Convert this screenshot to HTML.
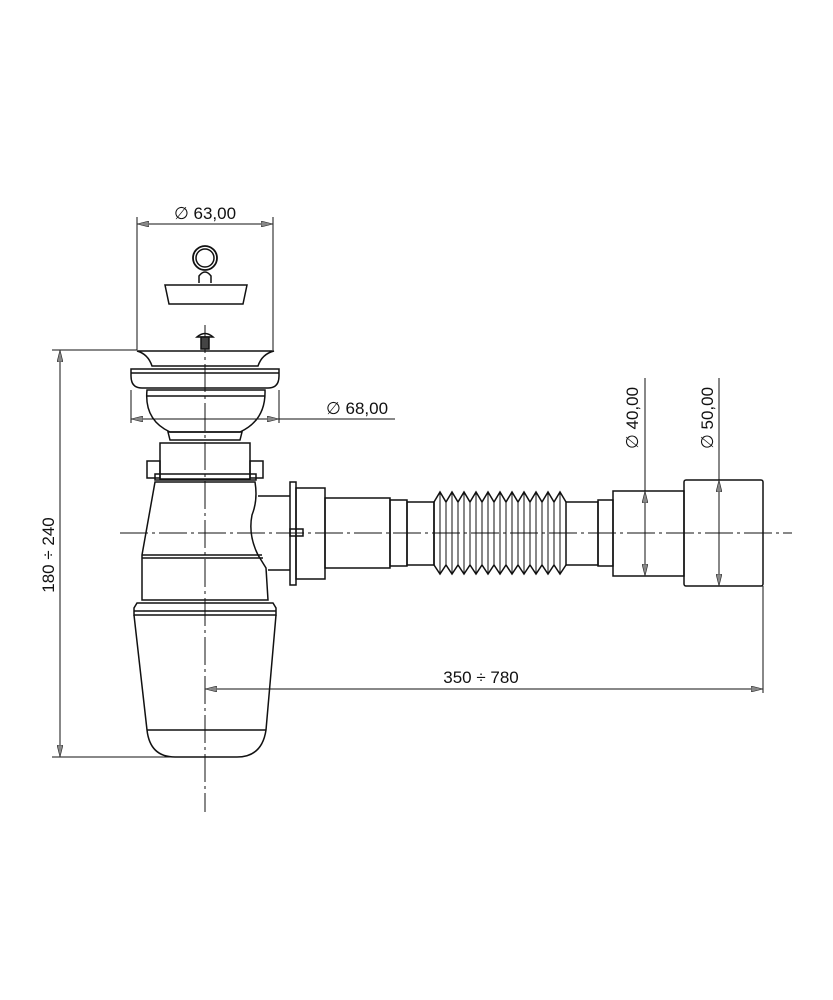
<!DOCTYPE html>
<html><head><style>html,body{margin:0;padding:0;background:#fff}svg{display:block}</style></head>
<body>
<svg width="833" height="1000" viewBox="0 0 833 1000" xmlns="http://www.w3.org/2000/svg" font-family="'Liberation Sans','DejaVu Sans',sans-serif">
<defs>
<marker id="a" viewBox="0 0 12 6" refX="12" refY="3" markerWidth="12" markerHeight="6" orient="auto-start-reverse" markerUnits="userSpaceOnUse"><path d="M0,0 L12,3 L0,6 Z" fill="#888" stroke="#222" stroke-width="0.6"/></marker>
</defs>
<g stroke="#111" stroke-width="1.5" fill="none">
<line x1="205" y1="325" x2="205" y2="812" stroke-dasharray="28,4,3,4" stroke-width="1"/>
<line x1="120" y1="533" x2="792" y2="533" stroke-dasharray="28,4,3,4" stroke-width="1"/>

<circle cx="205" cy="258" r="12" stroke-width="1.8"/>
<circle cx="205" cy="258" r="9"/>
<path d="M199,283 L199,276 Q205,268 211,276 L211,283"/>
<path d="M165,285 L247,285 L243,304 L169,304 Z"/>
<path d="M197,337 Q205,330 213,337 Z"/>
<rect x="201" y="337" width="8" height="12" fill="#444"/>
<path d="M137,351 L274,351 Q262,354 258,366 L152,366 Q148,354 137,351 Z"/>
<path d="M131,369 L279,369 L279,376 Q279,388 268,388 L142,388 Q131,388 131,376 Z"/>
<line x1="131" y1="373" x2="279" y2="373"/>
<path d="M147,390 L265,390 Q266,420 240,432 L170,432 Q144,420 147,390 Z"/>
<line x1="147" y1="396" x2="265" y2="396"/>
<path d="M168,432 L242,432 L240,440 L170,440 Z"/>
<rect x="160" y="443" width="90" height="36"/>
<rect x="147" y="461" width="13" height="17"/>
<rect x="250" y="461" width="13" height="17"/>
<rect x="155" y="474" width="101" height="6"/>
<path d="M155,482 L255,482 Q258,500 252,515 Q248,535 258,555 L266,568 L268,600 L142,600 L142,555 L155,482 Z"/>
<line x1="142" y1="555" x2="262" y2="555"/>
<line x1="142" y1="558" x2="263" y2="558"/>
<line x1="258" y1="496" x2="290" y2="496"/>
<line x1="268" y1="570" x2="290" y2="570"/>
<path d="M137,603 L273,603 L276,608 L276,615 L134,615 L134,608 Z"/>
<line x1="134" y1="611" x2="276" y2="611"/>
<path d="M134,615 L147,730 Q150,757 175,757 L237,757 Q262,757 266,730 L276,615"/>
<line x1="147" y1="730" x2="266" y2="730"/>
<rect x="290" y="482" width="6" height="103"/>
<rect x="296" y="488" width="29" height="91"/>
<rect x="290" y="529" width="13" height="7"/>
<rect x="325" y="498" width="65" height="70"/>
<rect x="390" y="500" width="17" height="66"/>
<rect x="407" y="502" width="27" height="63"/>
<path d="M434,502 L434,565"/>
<path d="M434,502 L440,492 L446,502 L452,492 L458,502 L464,492 L470,502 L476,492 L482,502 L488,492 L494,502 L500,492 L506,502 L512,492 L518,502 L524,492 L530,502 L536,492 L542,502 L548,492 L554,502 L560,492 L566,502"/>
<path d="M434,565 L440,574 L446,565 L452,574 L458,565 L464,574 L470,565 L476,574 L482,565 L488,574 L494,565 L500,574 L506,565 L512,574 L518,565 L524,574 L530,565 L536,574 L542,565 L548,574 L554,565 L560,574 L566,565"/>
<g stroke-width="1">
<line x1="440" y1="492" x2="440" y2="574"/><line x1="446" y1="502" x2="446" y2="565"/>
<line x1="452" y1="492" x2="452" y2="574"/><line x1="458" y1="502" x2="458" y2="565"/>
<line x1="464" y1="492" x2="464" y2="574"/><line x1="470" y1="502" x2="470" y2="565"/>
<line x1="476" y1="492" x2="476" y2="574"/><line x1="482" y1="502" x2="482" y2="565"/>
<line x1="488" y1="492" x2="488" y2="574"/><line x1="494" y1="502" x2="494" y2="565"/>
<line x1="500" y1="492" x2="500" y2="574"/><line x1="506" y1="502" x2="506" y2="565"/>
<line x1="512" y1="492" x2="512" y2="574"/><line x1="518" y1="502" x2="518" y2="565"/>
<line x1="524" y1="492" x2="524" y2="574"/><line x1="530" y1="502" x2="530" y2="565"/>
<line x1="536" y1="492" x2="536" y2="574"/><line x1="542" y1="502" x2="542" y2="565"/>
<line x1="548" y1="492" x2="548" y2="574"/><line x1="554" y1="502" x2="554" y2="565"/>
<line x1="560" y1="492" x2="560" y2="574"/>
</g>
<rect x="566" y="502" width="32" height="63"/>
<rect x="598" y="500" width="15" height="66"/>
<rect x="613" y="491" width="71" height="85"/>
<rect x="684" y="480" width="79" height="106" rx="2"/>

<g stroke-width="1">
<line x1="137" y1="217" x2="137" y2="350"/>
<line x1="273" y1="217" x2="273" y2="350"/>
<line x1="137" y1="224" x2="273" y2="224" marker-start="url(#a)" marker-end="url(#a)"/>
<line x1="131" y1="390" x2="131" y2="423"/>
<line x1="279" y1="390" x2="279" y2="423"/>
<line x1="131" y1="419" x2="279" y2="419" marker-start="url(#a)" marker-end="url(#a)"/>
<line x1="279" y1="419" x2="395" y2="419"/>
<line x1="52" y1="350" x2="137" y2="350"/>
<line x1="52" y1="757" x2="172" y2="757"/>
<line x1="60" y1="350" x2="60" y2="757" marker-start="url(#a)" marker-end="url(#a)"/>
<line x1="645" y1="378" x2="645" y2="491"/>
<line x1="645" y1="491" x2="645" y2="576" marker-start="url(#a)" marker-end="url(#a)"/>
<line x1="719" y1="378" x2="719" y2="480"/>
<line x1="719" y1="480" x2="719" y2="586" marker-start="url(#a)" marker-end="url(#a)"/>
<line x1="763" y1="586" x2="763" y2="693"/>
<line x1="205" y1="689" x2="763" y2="689" marker-start="url(#a)" marker-end="url(#a)"/>
</g>
</g>
<g fill="#111" font-size="17">
<text x="205" y="219" text-anchor="middle">∅ 63,00</text>
<text x="357" y="414" text-anchor="middle">∅ 68,00</text>
<text x="481" y="683" text-anchor="middle">350 ÷ 780</text>
<text transform="translate(54,555) rotate(-90)" text-anchor="middle">180 ÷ 240</text>
<text transform="translate(638,418) rotate(-90)" text-anchor="middle">∅ 40,00</text>
<text transform="translate(713,418) rotate(-90)" text-anchor="middle">∅ 50,00</text>
</g>
</svg>
</body></html>
